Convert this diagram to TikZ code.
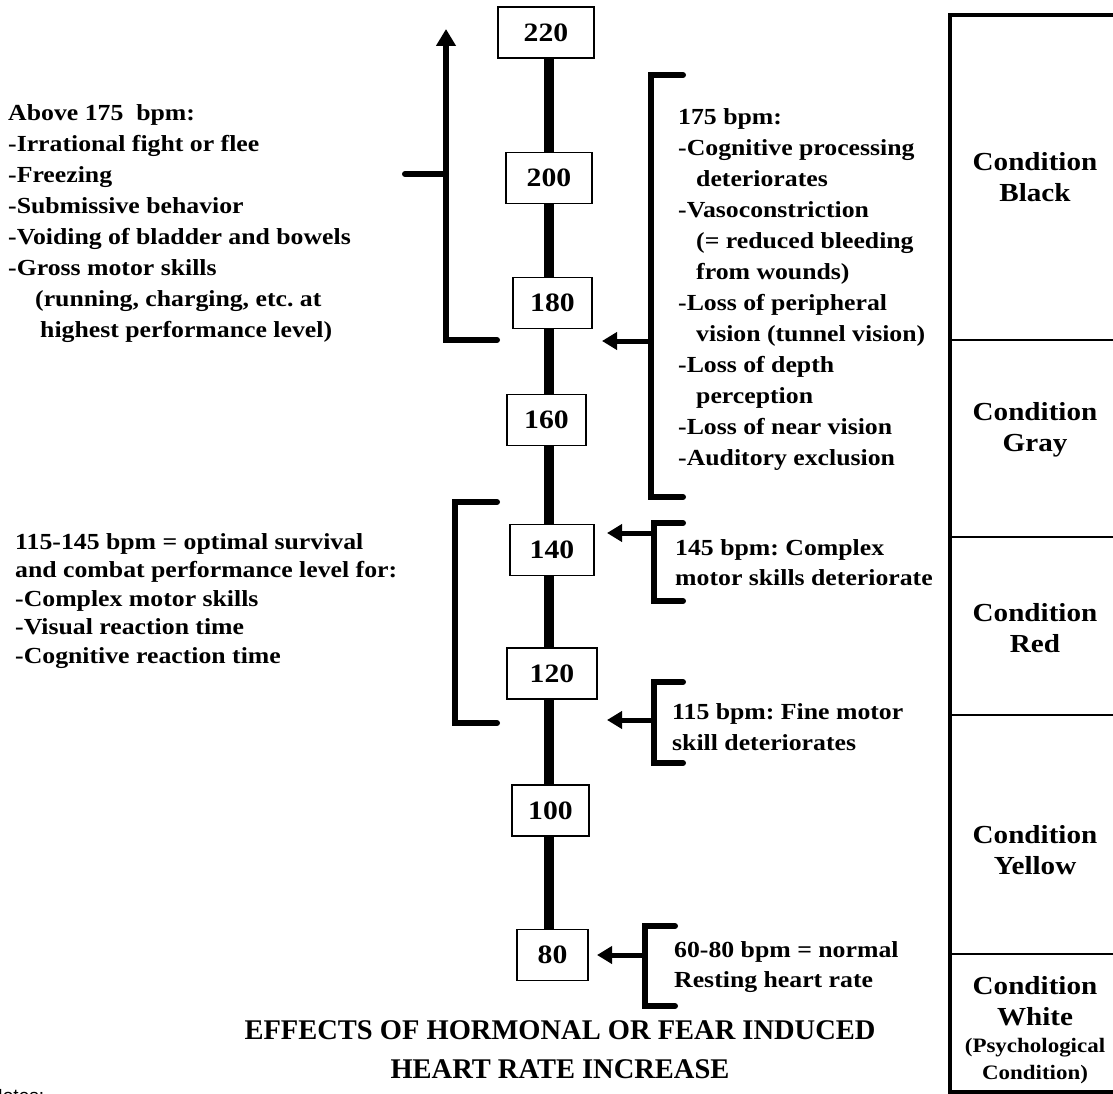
\documentclass[tikz,border=0pt]{standalone}
\usepackage{fontspec}
\setmainfont{Liberation Serif}[FakeStretch=1.12]
\newfontfamily\titlefont{Liberation Serif}
\newfontfamily\notesfont{Liberation Sans}
\usetikzlibrary{arrows.meta}
\frenchspacing

\tikzset{
  numbox/.style={draw=black, fill=white, line width=1.3pt, inner sep=0pt, minimum height=51pt, font=\fontsize{26.5}{30}\selectfont\bfseries},
  spine/.style={line width=10pt},
  brack/.style={line width=6pt, line cap=round},
  pointer/.style={line width=5pt, -{Triangle[length=15pt,width=17pt]}},
  note/.style={align=left, inner sep=0pt, anchor=north west, font=\fontsize{23}{31}\selectfont\bfseries},
  cond/.style={align=center, inner sep=0pt, font=\fontsize{26}{31}\selectfont\bfseries},
}

\begin{document}
\begin{tikzpicture}[x=1pt,y=-1pt]

\useasboundingbox (0,0) rectangle (1113,1094);

%%%%%%%%%%%%%%%%%%%% Heart rate scale %%%%%%%%%%%%%%%%%%%%

%spine
\coordinate (s1) at (549,40);
\coordinate (s2) at (549,950);
\draw[spine] (s1) -- (s2);

%rate boxes
\foreach \val/\xx/\yy/\ww in {220/546/32.5/96, 200/549/178/86, 180/552.5/303/79, 160/546.5/420/79, 140/552/550/84, 120/552/673.5/90, 100/550.5/810.5/77, 80/552.5/955/71}
{
    \node[numbox, minimum width=\ww pt] (b\val) at (\xx,\yy) {\val};
}

%levels pointed at
\coordinate (l175) at (602,341);
\coordinate (l145) at (607,533);
\coordinate (l115) at (607,720);
\coordinate (l80) at (597,955);

%%%%%%%%%%%%%%%%%%%% Left side %%%%%%%%%%%%%%%%%%%%

\node[note] (above) at (8,104) {Above 175\ \ bpm:\\
-Irrational fight or flee\\
-Freezing\\
-Submissive behavior\\
-Voiding of bladder and bowels\\
-Gross motor skills\\
\hspace*{27pt}(running, charging, etc. at\\
\hspace*{32pt}highest performance level)};

\coordinate (a1) at (497,340);
\coordinate (a2) at (446,340);
\coordinate (a3) at (446,29);
\coordinate (t1) at (405,174);
\coordinate (t2) at (446,174);
\draw[brack, -{Triangle[length=17pt,width=19pt]}] (a1) -- (a2) -- (a3);
\draw[brack] (t1) -- (t2);

\node[note, font=\fontsize{23}{28.5}\selectfont\bfseries] (optimal) at (15,533) {115-145 bpm = optimal survival\\
and combat performance level for:\\
-Complex motor skills\\
-Visual reaction time\\
-Cognitive reaction time};

\coordinate (o1) at (497,502);
\coordinate (o2) at (455,502);
\coordinate (o3) at (455,723);
\coordinate (o4) at (497,723);
\draw[brack] (o1) -- (o2) -- (o3) -- (o4);

%%%%%%%%%%%%%%%%%%%% Right side %%%%%%%%%%%%%%%%%%%%

\node[note] (n175) at (678,108) {175 bpm:\\
-Cognitive processing\\
\hspace*{18pt}deteriorates\\
-Vasoconstriction\\
\hspace*{18pt}(= reduced bleeding\\
\hspace*{18pt}from wounds)\\
-Loss of peripheral\\
\hspace*{18pt}vision (tunnel vision)\\
-Loss of depth\\
\hspace*{18pt}perception\\
-Loss of near vision\\
-Auditory exclusion};

\node[note, font=\fontsize{23}{30}\selectfont\bfseries] (n145) at (675,539) {145 bpm: Complex\\motor skills deteriorate};
\node[note] (n115) at (672,703) {115 bpm: Fine motor\\skill deteriorates};
\node[note, font=\fontsize{23}{30}\selectfont\bfseries] (n80) at (674,941) {60-80 bpm = normal\\Resting heart rate};

%brackets: top, bottom, x of the stem
\foreach \nm/\top/\bot/\xs/\xe in {175/75/497/651/683, 145/523/601/654/683, 115/682/763/654/683, 80/926/1006/645/675}
{
    \coordinate (k\nm a) at (\xe,\top);
    \coordinate (k\nm b) at (\xs,\top);
    \coordinate (k\nm c) at (\xs,\bot);
    \coordinate (k\nm d) at (\xe,\bot);
    \draw[brack] (k\nm a) -- (k\nm b) -- (k\nm c) -- (k\nm d);
}

%arrows to the scale
\foreach \nm/\xs in {175/651, 145/654, 115/654, 80/645}
{
    \path[pointer] (l\nm -| \xs,0) edge (l\nm);
}

%%%%%%%%%%%%%%%%%%%% Conditions %%%%%%%%%%%%%%%%%%%%

\draw[line width=4pt] (1135,15) -- (950,15) -- (950,1092) -- (1135,1092);
\foreach \yy in {340,537,715,954}
{
    \draw[line width=2.5pt] (950,\yy) -- (1135,\yy);
}

\node[cond] (cblack) at (1035,177) {Condition\\Black};
\node[cond] (cgray) at (1035,430) {Condition\\Gray};
\node[cond] (cred) at (1035,628) {Condition\\Red};
\node[cond] (cyellow) at (1035,850) {Condition\\Yellow};
\node[cond] (cwhite) at (1035,1030) {Condition\\White\\[-4pt]{\fontsize{20.5}{28}\selectfont(Psychological}\\[-4pt]{\fontsize{20.5}{28}\selectfont Condition)}};

%%%%%%%%%%%%%%%%%%%% Title %%%%%%%%%%%%%%%%%%%%

\node[align=center, font=\titlefont\fontsize{28.5}{39}\selectfont\bfseries] (title) at (560,1050) {EFFECTS OF HORMONAL OR FEAR INDUCED\\HEART RATE INCREASE};

\node[anchor=north west, inner sep=0pt, font=\notesfont\fontsize{19}{23}\selectfont] (notes) at (-11,1089) {Notes:};

\end{tikzpicture}
\end{document}
